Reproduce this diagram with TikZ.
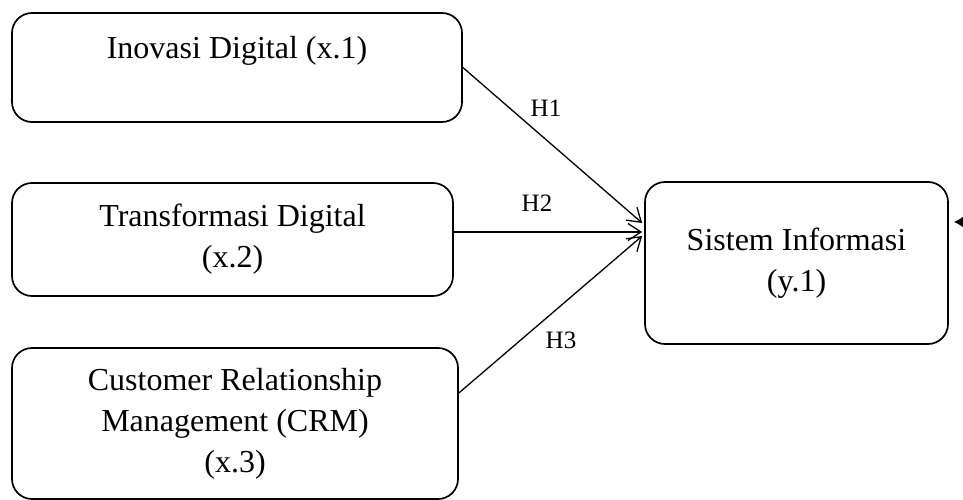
\documentclass[tikz,border=0pt]{standalone}
\usepackage{fontspec}
\setmainfont{Liberation Serif}
\usetikzlibrary{positioning,calc,arrows.meta}
\definecolor{boxline}{HTML}{000000}

\begin{document}
\begin{tikzpicture}[x=1pt,y=1pt,
  varbox/.style={draw=boxline,line width=1.7pt,rounded corners=20pt,align=center,
    font=\fontsize{32}{41}\selectfont,inner sep=0pt},
  hyp/.style={-{Straight Barb[length=13pt,width=17pt,line width=1.3pt]},line width=1.3pt},
  hlabel/.style={font=\fontsize{25}{29}\selectfont}]
\useasboundingbox (0,0) rectangle (963,499);
\node[varbox,minimum width=450,minimum height=109] (inov) at (237,431.5) {Inovasi Digital (x.1)\\ \mbox{}};
\node[varbox,minimum width=441,minimum height=113] (trans) at (232.5,259.5) {Transformasi Digital\\(x.2)};
\node[varbox,minimum width=446,minimum height=151] (crm) at (235,75.5) {Customer Relationship\\Management (CRM)\\(x.3)};
\node[varbox,minimum width=303,minimum height=162] (sis) at (796.5,236) {Sistem Informasi\\(y.1)};
\coordinate (t1) at ($(sis.west)+(-2,40)$);
\coordinate (t2) at ($(sis.west)+(-2,31)$);
\coordinate (t3) at ($(sis.west)+(-2,27)$);
\draw[hyp] (inov.east) -- (t1);
\draw[hyp] ([yshift=7.5]trans.east) -- (t2);
\draw[hyp] ([yshift=30.5]crm.east) -- (t3);
\node[hlabel] (h1) at (546,391) {H1};
\node[hlabel] (h2) at (537,296) {H2};
\node[hlabel] (h3) at (561,159) {H3};
\coordinate (stub) at (975,277);
\draw[-{Latex[length=10pt,width=12pt]},line width=0.8pt] (stub) -- (954,277);
\end{tikzpicture}
\end{document}
